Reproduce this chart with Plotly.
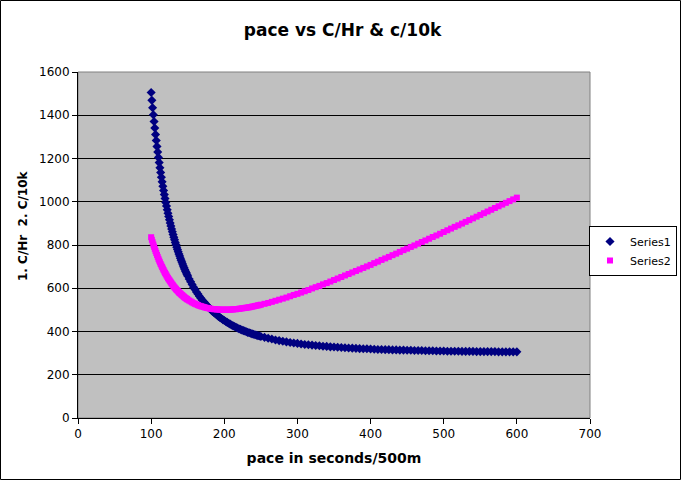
import plotly.graph_objects as go

# pace in seconds/500m
pace = [
    100, 101, 102, 103, 104, 105, 106, 107, 108, 109,
    110, 111, 112, 113, 114, 115, 116, 117, 118, 119,
    120, 121, 122, 123, 124, 125, 126, 127, 128, 129,
    130, 131, 132, 133, 134, 135, 136, 137, 138, 139,
    140, 141, 142, 143, 144, 145, 146, 147, 148, 149, 150,
    152, 154, 156, 158, 160, 162, 164, 166, 168, 170,
    172, 174, 176, 178, 180, 182, 184, 186, 188, 190,
    192, 194, 196, 198, 200, 202, 204, 206, 208, 210,
    212, 214, 216, 218, 220, 222, 224, 226, 228, 230,
    232, 234, 236, 238, 240, 242, 244, 246, 248, 250,
    255, 260, 265, 270, 275, 280, 285, 290, 295, 300,
    305, 310, 315, 320, 325, 330, 335, 340, 345, 350,
    355, 360, 365, 370, 375, 380, 385, 390, 395, 400,
    405, 410, 415, 420, 425, 430, 435, 440, 445, 450,
    455, 460, 465, 470, 475, 480, 485, 490, 495, 500,
    505, 510, 515, 520, 525, 530, 535, 540, 545, 550,
    555, 560, 565, 570, 575, 580, 585, 590, 595, 600,
]

# Series1: calories per hour
cal_per_hr = [
    1505, 1469, 1435, 1402, 1371, 1341, 1311, 1283, 1256, 1230,
    1205, 1181, 1157, 1135, 1113, 1092, 1072, 1052, 1033, 1015,
    997, 980, 963, 947, 932, 917, 902, 888, 874, 861,
    848, 836, 824, 812, 801, 790, 779, 769, 758, 749,
    739, 730, 721, 712, 703, 695, 687, 679, 672, 664, 657,
    643, 630, 617, 605, 594, 583, 573, 563, 554, 545,
    537, 529, 521, 514, 507, 500, 493, 487, 481, 476,
    470, 465, 460, 455, 451, 446, 442, 438, 434, 430,
    426, 423, 420, 416, 413, 410, 407, 404, 402, 399,
    396, 394, 392, 389, 387, 385, 383, 381, 379, 377,
    373, 369, 365, 361, 358, 355, 352, 349, 347, 345,
    342, 340, 339, 337, 335, 334, 332, 331, 329, 328,
    327, 326, 325, 324, 323, 322, 321, 320, 320, 319,
    318, 317, 317, 316, 316, 315, 315, 314, 314, 313,
    313, 312, 312, 312, 311, 311, 311, 310, 310, 310,
    309, 309, 309, 309, 308, 308, 308, 308, 307, 307,
    307, 307, 307, 307, 306, 306, 306, 306, 306, 306,
]

# Series2: calories per 10k
cal_per_10k = [
    836, 824, 813, 802, 792, 782, 772, 763, 754, 745,
    736, 728, 720, 712, 705, 698, 691, 684, 677, 671,
    665, 659, 653, 647, 642, 637, 632, 627, 622, 617,
    613, 608, 604, 600, 596, 592, 589, 585, 581, 578,
    575, 572, 569, 566, 563, 560, 557, 555, 552, 550, 547,
    543, 539, 535, 531, 528, 525, 522, 519, 517, 515,
    513, 511, 509, 508, 506, 505, 504, 503, 503, 502,
    502, 501, 501, 501, 501, 501, 501, 501, 501, 502,
    502, 503, 503, 504, 505, 506, 507, 508, 509, 510,
    511, 512, 513, 515, 516, 518, 519, 521, 522, 524,
    528, 532, 537, 542, 547, 552, 557, 563, 569, 574,
    580, 586, 592, 599, 605, 611, 618, 624, 631, 638,
    645, 652, 659, 666, 673, 680, 687, 694, 701, 708,
    716, 723, 731, 738, 745, 753, 760, 768, 776, 783,
    791, 798, 806, 814, 821, 829, 837, 844, 852, 860,
    868, 876, 884, 891, 899, 907, 915, 923, 931, 939,
    947, 955, 963, 971, 979, 987, 995, 1003, 1011, 1019,
]

FONT = "DejaVu Sans"
W, H = 681, 480
L, R, T, B = 78, 91, 72, 62
PW, PH = W - L - R, H - T - B


def px_x(px):
    return (px - L) / PW


def px_y(py):
    return (H - B - py) / PH


fig = go.Figure()
fig.add_trace(go.Scatter(x=pace, y=cal_per_hr, name="Series1", mode="markers",
                         marker=dict(symbol="diamond", size=7, color="#000080",
                                     line=dict(width=0))))
fig.add_trace(go.Scatter(x=pace, y=cal_per_10k, name="Series2", mode="markers",
                         marker=dict(symbol="square", size=6, color="#FF00FF",
                                     line=dict(width=0))))

# outer chart border and plot area frame
fig.add_shape(type="rect", xref="paper", yref="paper",
              x0=px_x(0.5), x1=px_x(W - 0.5), y0=px_y(H - 0.5), y1=px_y(0.5),
              line=dict(color="black", width=1), layer="above")
fig.add_shape(type="rect", xref="paper", yref="paper", x0=0, x1=1, y0=0, y1=1,
              line=dict(color="#808080", width=1), layer="below")

# y title sits a little above the axis centre in the original
fig.add_annotation(text="<b>1. C/Hr  2. C/10k</b>", textangle=-90, showarrow=False,
                   xref="paper", yref="paper", x=px_x(23), y=px_y(226),
                   xanchor="center", yanchor="middle", font=dict(size=12))

fig.update_layout(
    width=W, height=H,
    margin=dict(l=L, r=R, t=T, b=B, autoexpand=False),
    paper_bgcolor="white", plot_bgcolor="#C0C0C0",
    font=dict(family=FONT, size=12, color="black"),
    title=dict(text="<b>pace vs C/Hr & c/10k</b>", font=dict(size=17),
               x=0.503, xref="container", xanchor="center",
               y=1 - 30 / H, yanchor="middle"),
    xaxis=dict(range=[0, 700], dtick=100, showgrid=False, zeroline=False,
               showline=True, linecolor="black", linewidth=1,
               ticks="outside", ticklen=5, tickcolor="black", automargin=False,
               title=dict(text="<b>pace in seconds/500m</b>", standoff=12)),
    yaxis=dict(range=[0, 1600], dtick=200, showgrid=True, gridcolor="black",
               gridwidth=1, zeroline=False, showline=True, linecolor="black",
               linewidth=1, ticks="outside", ticklen=5, tickcolor="black",
               automargin=False),
    legend=dict(x=px_x(677), xanchor="right", y=px_y(226), yanchor="top",
                bgcolor="white", bordercolor="black", borderwidth=1,
                font=dict(size=11), itemwidth=30, tracegroupgap=0),
    showlegend=True,
)

# drop the default 8px body margin so the chart fills the window exactly
fig.write_html("out.html", config={"displayModeBar": False},
               post_script="document.body.style.margin='0px';")
